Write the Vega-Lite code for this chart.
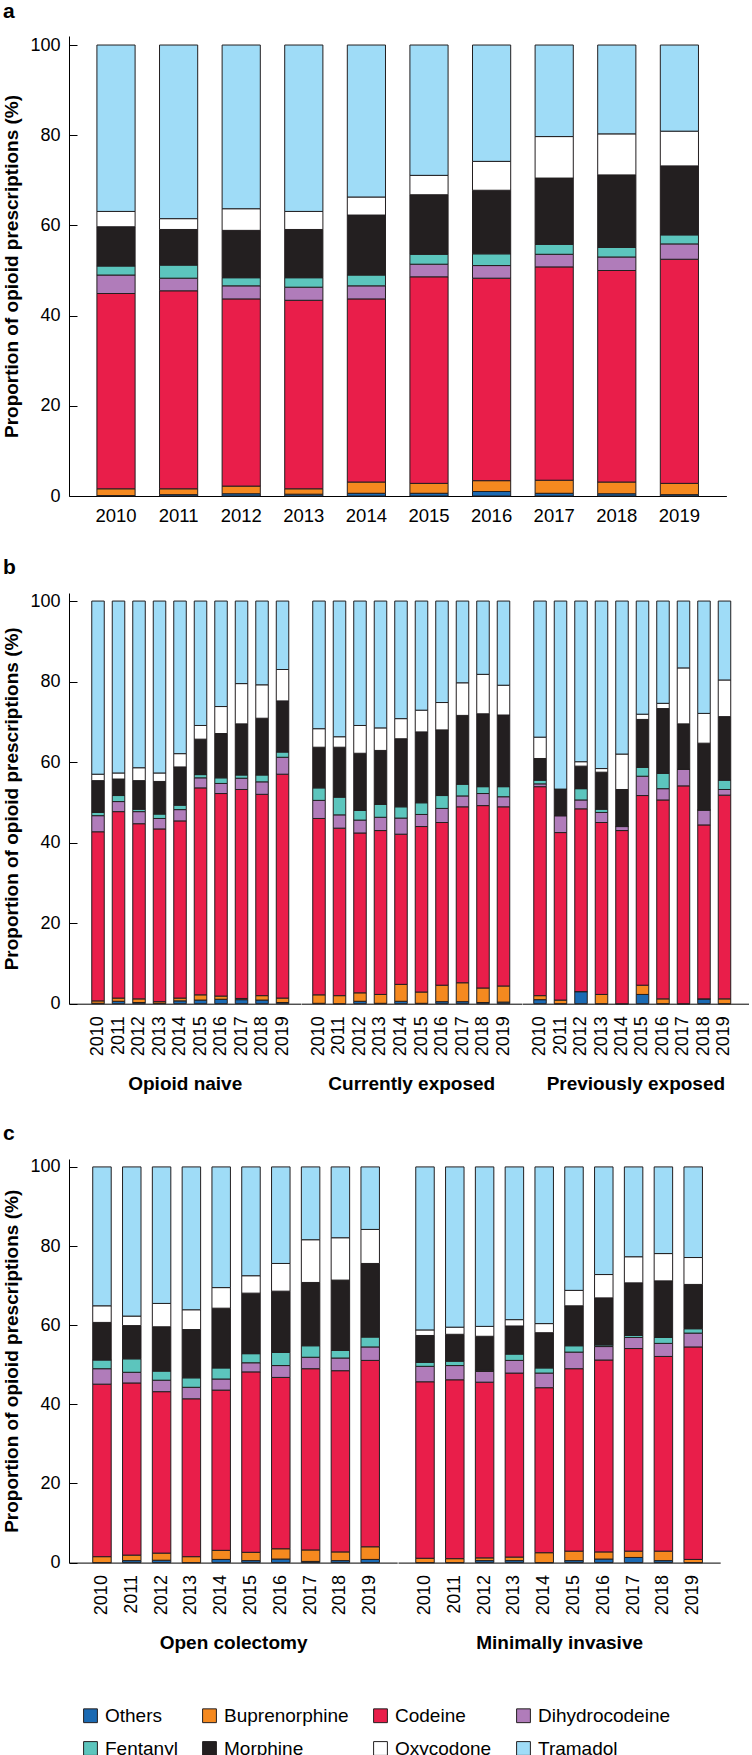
{
  "$schema": "https://vega.github.io/schema/vega-lite/v6.json",
  "padding": {"left": 2, "top": 1, "right": 0, "bottom": 0},
  "background": "white",
  "config": {
    "font": "Liberation Sans",
    "view": {"stroke": null},
    "axis": {"domainColor": "#000", "tickColor": "#000", "labelColor": "#000", "titleColor": "#000", "grid": false, "labelFontSize": 18, "titleFontSize": 19, "domainWidth": 1, "tickWidth": 1},
    "title": {"fontSize": 21, "fontWeight": "bold", "anchor": "start", "frame": "bounds", "offset": 14, "color": "#000"},
    "legend": {"layout": {"bottom": {"anchor": "middle"}}}
  },
  "datasets": {
    "drugs": [
      {"k": "O", "drug": "Others", "i": 0},
      {"k": "B", "drug": "Buprenorphine", "i": 1},
      {"k": "C", "drug": "Codeine", "i": 2},
      {"k": "D", "drug": "Dihydrocodeine", "i": 3},
      {"k": "F", "drug": "Fentanyl", "i": 4},
      {"k": "M", "drug": "Morphine", "i": 5},
      {"k": "X", "drug": "Oxycodone", "i": 6},
      {"k": "T", "drug": "Tramadol", "i": 7}
    ],
    "pa": [
      {"yr": "2010", "O": 0.1, "B": 1.5, "C": 43.3, "D": 4.1, "F": 2.0, "M": 8.7, "X": 3.4, "T": 36.9},
      {"yr": "2011", "O": 0.3, "B": 1.3, "C": 43.9, "D": 2.8, "F": 2.9, "M": 7.9, "X": 2.4, "T": 38.5},
      {"yr": "2012", "O": 0.5, "B": 1.7, "C": 41.5, "D": 2.9, "F": 1.8, "M": 10.5, "X": 4.8, "T": 36.3},
      {"yr": "2013", "O": 0.4, "B": 1.2, "C": 41.8, "D": 2.9, "F": 2.1, "M": 10.7, "X": 4.0, "T": 36.9},
      {"yr": "2014", "O": 0.6, "B": 2.5, "C": 40.6, "D": 2.9, "F": 2.4, "M": 13.3, "X": 4.0, "T": 33.7},
      {"yr": "2015", "O": 0.6, "B": 2.2, "C": 45.8, "D": 2.8, "F": 2.2, "M": 13.2, "X": 4.3, "T": 28.9},
      {"yr": "2016", "O": 1.0, "B": 2.4, "C": 44.9, "D": 2.8, "F": 2.6, "M": 14.1, "X": 6.4, "T": 25.8},
      {"yr": "2017", "O": 0.6, "B": 2.9, "C": 47.3, "D": 2.8, "F": 2.2, "M": 14.7, "X": 9.2, "T": 20.3},
      {"yr": "2018", "O": 0.5, "B": 2.6, "C": 46.9, "D": 3.0, "F": 2.1, "M": 16.1, "X": 9.1, "T": 19.7},
      {"yr": "2019", "O": 0.3, "B": 2.5, "C": 49.7, "D": 3.4, "F": 2.0, "M": 15.3, "X": 7.7, "T": 19.1}
    ],
    "pb": [
      {"g": "Opioid naive", "yr": "2010", "O": 0.1, "B": 0.6, "C": 42.0, "D": 4.0, "F": 0.8, "M": 7.9, "X": 1.6, "T": 43.0},
      {"g": "Opioid naive", "yr": "2011", "O": 0.6, "B": 0.8, "C": 46.3, "D": 2.5, "F": 1.5, "M": 4.1, "X": 1.5, "T": 42.7},
      {"g": "Opioid naive", "yr": "2012", "O": 0.3, "B": 0.9, "C": 43.5, "D": 3.0, "F": 0.6, "M": 7.1, "X": 3.2, "T": 41.4},
      {"g": "Opioid naive", "yr": "2013", "O": 0.1, "B": 0.4, "C": 42.9, "D": 2.6, "F": 1.1, "M": 8.1, "X": 2.1, "T": 42.7},
      {"g": "Opioid naive", "yr": "2014", "O": 0.7, "B": 0.7, "C": 44.0, "D": 2.8, "F": 1.1, "M": 9.5, "X": 3.3, "T": 37.9},
      {"g": "Opioid naive", "yr": "2015", "O": 0.9, "B": 1.3, "C": 51.4, "D": 2.5, "F": 0.8, "M": 8.8, "X": 3.4, "T": 30.9},
      {"g": "Opioid naive", "yr": "2016", "O": 1.1, "B": 0.8, "C": 50.3, "D": 2.5, "F": 1.4, "M": 11.0, "X": 6.7, "T": 26.2},
      {"g": "Opioid naive", "yr": "2017", "O": 1.0, "B": 0.3, "C": 51.9, "D": 2.8, "F": 0.8, "M": 12.7, "X": 10.0, "T": 20.5},
      {"g": "Opioid naive", "yr": "2018", "O": 0.9, "B": 1.1, "C": 50.0, "D": 3.1, "F": 1.7, "M": 14.1, "X": 8.3, "T": 20.8},
      {"g": "Opioid naive", "yr": "2019", "O": 0.3, "B": 1.1, "C": 55.6, "D": 4.2, "F": 1.3, "M": 12.7, "X": 7.8, "T": 17.0},
      {"g": "Currently exposed", "yr": "2010", "O": 0.1, "B": 2.1, "C": 43.8, "D": 4.5, "F": 3.1, "M": 10.1, "X": 4.6, "T": 31.7},
      {"g": "Currently exposed", "yr": "2011", "O": 0.0, "B": 2.0, "C": 41.6, "D": 3.3, "F": 4.4, "M": 12.4, "X": 2.6, "T": 33.7},
      {"g": "Currently exposed", "yr": "2012", "O": 0.6, "B": 2.1, "C": 39.7, "D": 3.2, "F": 2.4, "M": 14.2, "X": 6.9, "T": 30.9},
      {"g": "Currently exposed", "yr": "2013", "O": 0.1, "B": 2.2, "C": 40.7, "D": 3.3, "F": 3.2, "M": 13.4, "X": 5.6, "T": 31.5},
      {"g": "Currently exposed", "yr": "2014", "O": 0.6, "B": 4.2, "C": 37.3, "D": 4.0, "F": 2.8, "M": 16.9, "X": 5.0, "T": 29.2},
      {"g": "Currently exposed", "yr": "2015", "O": 0.1, "B": 2.8, "C": 41.1, "D": 3.0, "F": 2.9, "M": 17.6, "X": 5.4, "T": 27.1},
      {"g": "Currently exposed", "yr": "2016", "O": 0.5, "B": 4.1, "C": 40.4, "D": 3.5, "F": 3.2, "M": 16.3, "X": 6.8, "T": 25.2},
      {"g": "Currently exposed", "yr": "2017", "O": 0.5, "B": 4.7, "C": 43.7, "D": 2.7, "F": 2.9, "M": 17.1, "X": 8.1, "T": 20.3},
      {"g": "Currently exposed", "yr": "2018", "O": 0.3, "B": 3.6, "C": 45.3, "D": 3.0, "F": 1.7, "M": 18.1, "X": 9.8, "T": 18.2},
      {"g": "Currently exposed", "yr": "2019", "O": 0.4, "B": 4.0, "C": 44.5, "D": 2.5, "F": 2.5, "M": 17.8, "X": 7.4, "T": 20.9},
      {"g": "Previously exposed", "yr": "2010", "O": 1.0, "B": 1.0, "C": 51.9, "D": 0.7, "F": 0.9, "M": 5.4, "X": 5.3, "T": 33.8},
      {"g": "Previously exposed", "yr": "2011", "O": 0.0, "B": 0.9, "C": 41.6, "D": 4.2, "F": 0.0, "M": 6.6, "X": 0.0, "T": 46.7},
      {"g": "Previously exposed", "yr": "2012", "O": 3.0, "B": 0.0, "C": 45.4, "D": 2.2, "F": 2.8, "M": 5.6, "X": 1.1, "T": 39.9},
      {"g": "Previously exposed", "yr": "2013", "O": 0.0, "B": 2.3, "C": 42.7, "D": 2.5, "F": 0.8, "M": 9.2, "X": 0.9, "T": 41.6},
      {"g": "Previously exposed", "yr": "2014", "O": 0.0, "B": 0.0, "C": 43.0, "D": 1.0, "F": 0.0, "M": 9.2, "X": 8.8, "T": 38.0},
      {"g": "Previously exposed", "yr": "2015", "O": 2.3, "B": 2.3, "C": 47.1, "D": 4.8, "F": 2.2, "M": 11.9, "X": 1.3, "T": 28.1},
      {"g": "Previously exposed", "yr": "2016", "O": 0.0, "B": 1.2, "C": 49.4, "D": 2.8, "F": 3.8, "M": 16.1, "X": 1.3, "T": 25.4},
      {"g": "Previously exposed", "yr": "2017", "O": 0.0, "B": 0.0, "C": 54.1, "D": 4.1, "F": 0.0, "M": 11.3, "X": 13.9, "T": 16.6},
      {"g": "Previously exposed", "yr": "2018", "O": 1.2, "B": 0.0, "C": 43.2, "D": 3.7, "F": 0.0, "M": 16.6, "X": 7.4, "T": 27.9},
      {"g": "Previously exposed", "yr": "2019", "O": 0.0, "B": 1.2, "C": 50.6, "D": 1.4, "F": 2.3, "M": 15.8, "X": 9.1, "T": 19.6}
    ],
    "pc": [
      {"g": "Open colectomy", "yr": "2010", "O": 0.0, "B": 1.5, "C": 43.6, "D": 3.9, "F": 2.2, "M": 9.5, "X": 4.2, "T": 35.1},
      {"g": "Open colectomy", "yr": "2011", "O": 0.5, "B": 1.4, "C": 43.5, "D": 2.7, "F": 3.4, "M": 8.4, "X": 2.4, "T": 37.7},
      {"g": "Open colectomy", "yr": "2012", "O": 0.6, "B": 1.8, "C": 40.8, "D": 2.9, "F": 2.3, "M": 11.2, "X": 5.9, "T": 34.5},
      {"g": "Open colectomy", "yr": "2013", "O": 0.0, "B": 1.5, "C": 39.9, "D": 2.9, "F": 2.4, "M": 12.2, "X": 5.0, "T": 36.1},
      {"g": "Open colectomy", "yr": "2014", "O": 0.8, "B": 2.3, "C": 40.5, "D": 2.8, "F": 2.8, "M": 15.1, "X": 5.2, "T": 30.5},
      {"g": "Open colectomy", "yr": "2015", "O": 0.5, "B": 2.1, "C": 45.6, "D": 2.3, "F": 2.3, "M": 15.3, "X": 4.4, "T": 27.5},
      {"g": "Open colectomy", "yr": "2016", "O": 0.9, "B": 2.6, "C": 43.3, "D": 3.0, "F": 3.3, "M": 15.5, "X": 7.0, "T": 24.4},
      {"g": "Open colectomy", "yr": "2017", "O": 0.3, "B": 2.9, "C": 45.8, "D": 2.9, "F": 2.9, "M": 16.0, "X": 10.8, "T": 18.4},
      {"g": "Open colectomy", "yr": "2018", "O": 0.5, "B": 2.2, "C": 45.8, "D": 3.2, "F": 1.9, "M": 17.8, "X": 10.7, "T": 17.9},
      {"g": "Open colectomy", "yr": "2019", "O": 0.8, "B": 3.2, "C": 47.1, "D": 3.4, "F": 2.5, "M": 18.6, "X": 8.6, "T": 15.8},
      {"g": "Minimally invasive", "yr": "2010", "O": 0.0, "B": 1.1, "C": 44.6, "D": 3.9, "F": 1.0, "M": 6.8, "X": 1.4, "T": 41.2},
      {"g": "Minimally invasive", "yr": "2011", "O": 0.0, "B": 1.0, "C": 45.2, "D": 3.6, "F": 1.1, "M": 6.8, "X": 1.8, "T": 40.5},
      {"g": "Minimally invasive", "yr": "2012", "O": 0.5, "B": 0.7, "C": 44.4, "D": 2.7, "F": 0.3, "M": 8.6, "X": 2.5, "T": 40.3},
      {"g": "Minimally invasive", "yr": "2013", "O": 0.5, "B": 0.9, "C": 46.5, "D": 3.2, "F": 1.6, "M": 7.1, "X": 1.6, "T": 38.6},
      {"g": "Minimally invasive", "yr": "2014", "O": 0.0, "B": 2.5, "C": 41.7, "D": 3.7, "F": 1.3, "M": 8.9, "X": 2.3, "T": 39.6},
      {"g": "Minimally invasive", "yr": "2015", "O": 0.5, "B": 2.4, "C": 46.1, "D": 4.2, "F": 1.6, "M": 10.1, "X": 3.9, "T": 31.2},
      {"g": "Minimally invasive", "yr": "2016", "O": 0.9, "B": 1.8, "C": 48.5, "D": 3.4, "F": 0.4, "M": 11.9, "X": 5.9, "T": 27.2},
      {"g": "Minimally invasive", "yr": "2017", "O": 1.3, "B": 1.6, "C": 51.2, "D": 2.8, "F": 0.5, "M": 13.3, "X": 6.6, "T": 22.7},
      {"g": "Minimally invasive", "yr": "2018", "O": 0.5, "B": 2.4, "C": 49.2, "D": 3.3, "F": 1.5, "M": 14.3, "X": 6.9, "T": 21.9},
      {"g": "Minimally invasive", "yr": "2019", "O": 0.0, "B": 0.8, "C": 53.7, "D": 3.5, "F": 1.1, "M": 11.2, "X": 6.8, "T": 22.9}
    ]
  },
  "spacing": 28,
  "vconcat": [
    {
      "spacing": 32,
      "vconcat": [
        {
          "title": {"text": "a"},
          "data": {"name": "pa"},
          "transform": [
            {"fold": ["O", "B", "C", "D", "F", "M", "X", "T"], "as": ["k", "v"]},
            {"lookup": "k", "from": {"data": {"name": "drugs"}, "key": "k", "fields": ["drug", "i"]}}
          ],
          "width": 657.4,
          "height": 460,
          "mark": {"type": "bar", "stroke": "#231f20", "strokeWidth": 1},
          "encoding": {
            "x": {"field": "yr", "type": "nominal", "scale": {"paddingInner": 0.39, "paddingOuter": 0.446}, "axis": {"title": null, "labelAngle": 0, "ticks": false, "labelPadding": 10, "labelFontSize": 18.5}},
            "y": {"field": "v", "type": "quantitative", "stack": "zero", "scale": {"domain": [0, 102], "nice": false}, "axis": {"title": "Proportion of opioid prescriptions (%)", "values": [0, 20, 40, 60, 80, 100], "tickSize": -8, "labelPadding": 17, "titleFontWeight": "bold", "titlePadding": 8}},
            "color": {"field": "drug", "type": "nominal", "scale": {"domain": ["Others", "Buprenorphine", "Codeine", "Dihydrocodeine", "Fentanyl", "Morphine", "Oxycodone", "Tramadol"], "range": ["#1b6ab3", "#f5891f", "#e91e4a", "#b07cba", "#5cc5bd", "#231f20", "#ffffff", "#9fdcf7"]}, "legend": {"title": null, "orient": "bottom", "offset": 53, "direction": "horizontal", "columns": 4, "symbolType": "square", "symbolSize": 190, "symbolStrokeColor": "#231f20", "symbolStrokeWidth": 1, "labelFontSize": 19, "labelColor": "#000", "labelOffset": 5, "columnPadding": 22, "rowPadding": 13}},
            "order": {"field": "i", "type": "quantitative"}
          }
        },
        {
          "title": {"text": "b"},
          "spacing": 0,
          "hconcat": [
            {
              "data": {"name": "pb"},
              "transform": [
                {"filter": {"field": "g", "equal": "Opioid naive"}},
                {"fold": ["O", "B", "C", "D", "F", "M", "X", "T"], "as": ["k", "v"]},
                {"lookup": "k", "from": {"data": {"name": "drugs"}, "key": "k", "fields": ["drug", "i"]}}
              ],
              "width": 231.5,
              "height": 410.7,
              "mark": {"type": "bar", "stroke": "#231f20", "strokeWidth": 1},
              "encoding": {
                "x": {"field": "yr", "type": "nominal", "scale": {"paddingInner": 0.39, "paddingOuter": 0.841, "align": 0.66}, "axis": {"title": "Opioid naive", "labelAngle": -90, "ticks": false, "labelPadding": 12, "labelFontSize": 18, "titleFontWeight": "bold", "titlePadding": 19}},
                "y": {"field": "v", "type": "quantitative", "stack": "zero", "scale": {"domain": [0, 102], "nice": false}, "axis": {"title": "Proportion of opioid prescriptions (%)", "values": [0, 20, 40, 60, 80, 100], "tickSize": -8, "labelPadding": 17, "titleFontWeight": "bold", "titlePadding": 8}},
                "color": {"field": "drug", "type": "nominal", "scale": {"domain": ["Others", "Buprenorphine", "Codeine", "Dihydrocodeine", "Fentanyl", "Morphine", "Oxycodone", "Tramadol"], "range": ["#1b6ab3", "#f5891f", "#e91e4a", "#b07cba", "#5cc5bd", "#231f20", "#ffffff", "#9fdcf7"]}, "legend": {"title": null, "orient": "bottom", "offset": 53, "direction": "horizontal", "columns": 4, "symbolType": "square", "symbolSize": 190, "symbolStrokeColor": "#231f20", "symbolStrokeWidth": 1, "labelFontSize": 19, "labelColor": "#000", "labelOffset": 5, "columnPadding": 22, "rowPadding": 13}},
                "order": {"field": "i", "type": "quantitative"}
              }
            },
            {
              "data": {"name": "pb"},
              "transform": [
                {"filter": {"field": "g", "equal": "Currently exposed"}},
                {"fold": ["O", "B", "C", "D", "F", "M", "X", "T"], "as": ["k", "v"]},
                {"lookup": "k", "from": {"data": {"name": "drugs"}, "key": "k", "fields": ["drug", "i"]}}
              ],
              "width": 220.5,
              "height": 410.7,
              "mark": {"type": "bar", "stroke": "#231f20", "strokeWidth": 1},
              "encoding": {
                "x": {"field": "yr", "type": "nominal", "scale": {"paddingInner": 0.39, "paddingOuter": 0.573}, "axis": {"title": "Currently exposed", "labelAngle": -90, "ticks": false, "labelPadding": 12, "labelFontSize": 18, "titleFontWeight": "bold", "titlePadding": 19}},
                "y": {"field": "v", "type": "quantitative", "stack": "zero", "scale": {"domain": [0, 102], "nice": false}, "axis": null},
                "color": {"field": "drug", "type": "nominal", "scale": {"domain": ["Others", "Buprenorphine", "Codeine", "Dihydrocodeine", "Fentanyl", "Morphine", "Oxycodone", "Tramadol"], "range": ["#1b6ab3", "#f5891f", "#e91e4a", "#b07cba", "#5cc5bd", "#231f20", "#ffffff", "#9fdcf7"]}, "legend": {"title": null, "orient": "bottom", "offset": 53, "direction": "horizontal", "columns": 4, "symbolType": "square", "symbolSize": 190, "symbolStrokeColor": "#231f20", "symbolStrokeWidth": 1, "labelFontSize": 19, "labelColor": "#000", "labelOffset": 5, "columnPadding": 22, "rowPadding": 13}},
                "order": {"field": "i", "type": "quantitative"}
              }
            },
            {
              "data": {"name": "pb"},
              "transform": [
                {"filter": {"field": "g", "equal": "Previously exposed"}},
                {"fold": ["O", "B", "C", "D", "F", "M", "X", "T"], "as": ["k", "v"]},
                {"lookup": "k", "from": {"data": {"name": "drugs"}, "key": "k", "fields": ["drug", "i"]}}
              ],
              "width": 226.75,
              "height": 410.7,
              "mark": {"type": "bar", "stroke": "#231f20", "strokeWidth": 1},
              "encoding": {
                "x": {"field": "yr", "type": "nominal", "scale": {"paddingInner": 0.39, "paddingOuter": 0.726, "align": 0.395}, "axis": {"title": "Previously exposed", "labelAngle": -90, "ticks": false, "labelPadding": 12, "labelFontSize": 18, "titleFontWeight": "bold", "titlePadding": 19}},
                "y": {"field": "v", "type": "quantitative", "stack": "zero", "scale": {"domain": [0, 102], "nice": false}, "axis": null},
                "color": {"field": "drug", "type": "nominal", "scale": {"domain": ["Others", "Buprenorphine", "Codeine", "Dihydrocodeine", "Fentanyl", "Morphine", "Oxycodone", "Tramadol"], "range": ["#1b6ab3", "#f5891f", "#e91e4a", "#b07cba", "#5cc5bd", "#231f20", "#ffffff", "#9fdcf7"]}, "legend": {"title": null, "orient": "bottom", "offset": 53, "direction": "horizontal", "columns": 4, "symbolType": "square", "symbolSize": 190, "symbolStrokeColor": "#231f20", "symbolStrokeWidth": 1, "labelFontSize": 19, "labelColor": "#000", "labelOffset": 5, "columnPadding": 22, "rowPadding": 13}},
                "order": {"field": "i", "type": "quantitative"}
              }
            }
          ]
        }
      ]
    },
    {
      "title": {"text": "c"},
      "spacing": 0,
      "hconcat": [
        {
          "data": {"name": "pc"},
          "transform": [
            {"filter": {"field": "g", "equal": "Open colectomy"}},
            {"fold": ["O", "B", "C", "D", "F", "M", "X", "T"], "as": ["k", "v"]},
            {"lookup": "k", "from": {"data": {"name": "drugs"}, "key": "k", "fields": ["drug", "i"]}}
          ],
          "width": 328.2,
          "height": 403.6,
          "mark": {"type": "bar", "stroke": "#231f20", "strokeWidth": 1},
          "encoding": {
            "x": {"field": "yr", "type": "nominal", "scale": {"paddingInner": 0.38, "paddingOuter": 0.696, "align": 0.572}, "axis": {"title": "Open colectomy", "labelAngle": -90, "ticks": false, "labelPadding": 12, "labelFontSize": 18, "titleFontWeight": "bold", "titlePadding": 19}},
            "y": {"field": "v", "type": "quantitative", "stack": "zero", "scale": {"domain": [0, 102], "nice": false}, "axis": {"title": "Proportion of opioid prescriptions (%)", "values": [0, 20, 40, 60, 80, 100], "tickSize": -8, "labelPadding": 17, "titleFontWeight": "bold", "titlePadding": 8}},
            "color": {"field": "drug", "type": "nominal", "scale": {"domain": ["Others", "Buprenorphine", "Codeine", "Dihydrocodeine", "Fentanyl", "Morphine", "Oxycodone", "Tramadol"], "range": ["#1b6ab3", "#f5891f", "#e91e4a", "#b07cba", "#5cc5bd", "#231f20", "#ffffff", "#9fdcf7"]}, "legend": {"title": null, "orient": "bottom", "offset": 53, "direction": "horizontal", "columns": 4, "symbolType": "square", "symbolSize": 190, "symbolStrokeColor": "#231f20", "symbolStrokeWidth": 1, "labelFontSize": 19, "labelColor": "#000", "labelOffset": 5, "columnPadding": 22, "rowPadding": 13}},
            "order": {"field": "i", "type": "quantitative"}
          }
        },
        {
          "data": {"name": "pc"},
          "transform": [
            {"filter": {"field": "g", "equal": "Minimally invasive"}},
            {"fold": ["O", "B", "C", "D", "F", "M", "X", "T"], "as": ["k", "v"]},
            {"lookup": "k", "from": {"data": {"name": "drugs"}, "key": "k", "fields": ["drug", "i"]}}
          ],
          "width": 322.2,
          "height": 403.6,
          "mark": {"type": "bar", "stroke": "#231f20", "strokeWidth": 1},
          "encoding": {
            "x": {"field": "yr", "type": "nominal", "scale": {"paddingInner": 0.38, "paddingOuter": 0.596}, "axis": {"title": "Minimally invasive", "labelAngle": -90, "ticks": false, "labelPadding": 12, "labelFontSize": 18, "titleFontWeight": "bold", "titlePadding": 19}},
            "y": {"field": "v", "type": "quantitative", "stack": "zero", "scale": {"domain": [0, 102], "nice": false}, "axis": null},
            "color": {"field": "drug", "type": "nominal", "scale": {"domain": ["Others", "Buprenorphine", "Codeine", "Dihydrocodeine", "Fentanyl", "Morphine", "Oxycodone", "Tramadol"], "range": ["#1b6ab3", "#f5891f", "#e91e4a", "#b07cba", "#5cc5bd", "#231f20", "#ffffff", "#9fdcf7"]}, "legend": {"title": null, "orient": "bottom", "offset": 53, "direction": "horizontal", "columns": 4, "symbolType": "square", "symbolSize": 190, "symbolStrokeColor": "#231f20", "symbolStrokeWidth": 1, "labelFontSize": 19, "labelColor": "#000", "labelOffset": 5, "columnPadding": 22, "rowPadding": 13}},
            "order": {"field": "i", "type": "quantitative"}
          }
        }
      ]
    }
  ]
}
